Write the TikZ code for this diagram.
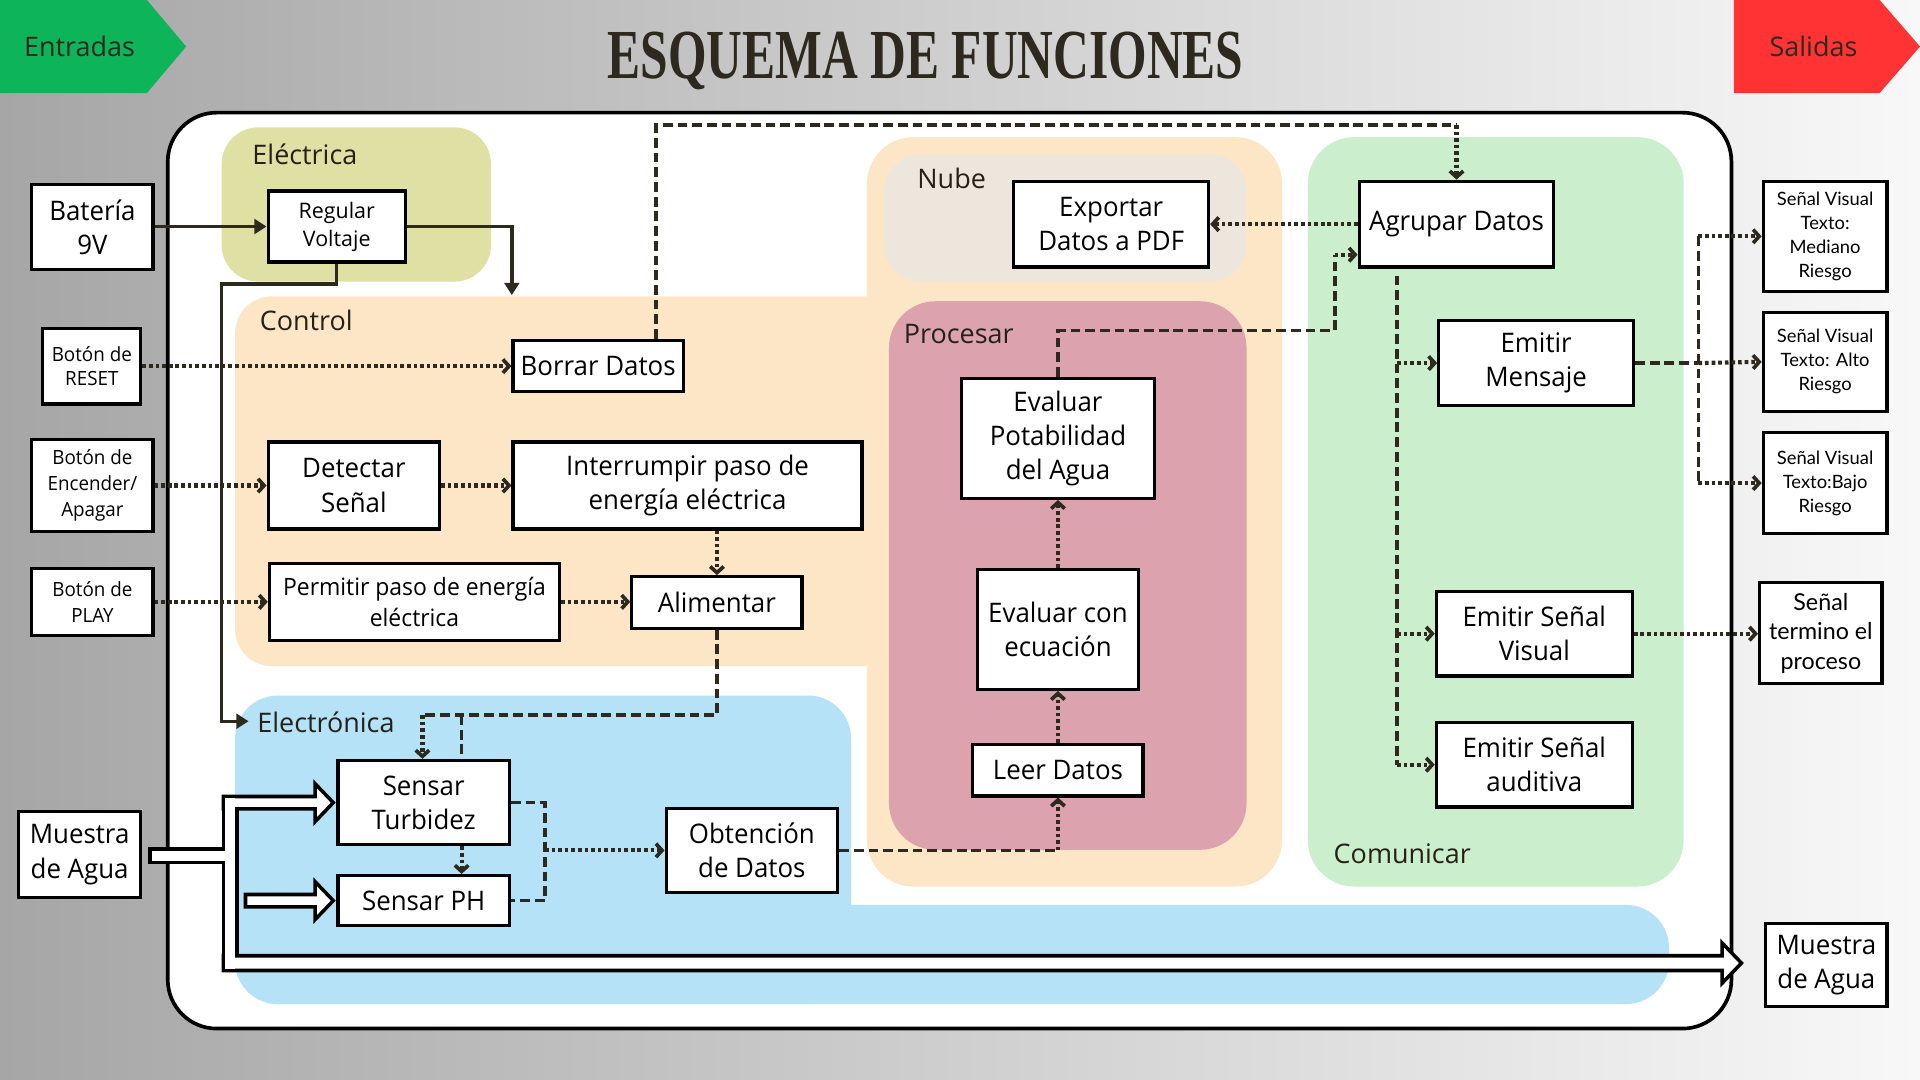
\documentclass[tikz,border=0pt]{standalone}
\usepackage{fontspec}
\usetikzlibrary{arrows.meta,calc}
\newfontfamily\cond[FakeStretch=0.96]{Open Sans}
\newfontfamily\wide{Open Sans}
\newfontfamily\geo{Lato}
\newfontfamily\ttl{Liberation Serif}
\definecolor{ink}{RGB}{45,41,30}
\definecolor{bgl}{RGB}{166,166,166}
\definecolor{bgr}{RGB}{248,248,248}
\definecolor{tagg}{RGB}{14,180,90}
\definecolor{tagr}{RGB}{255,51,51}
\definecolor{elecol}{RGB}{223,224,163}
\definecolor{peach}{RGB}{253,230,197}
\definecolor{nubecol}{RGB}{237,230,220}
\definecolor{proccol}{RGB}{220,163,174}
\definecolor{comcol}{RGB}{203,239,205}
\definecolor{eleccol}{RGB}{181,226,247}
\newcommand\pipeset[1]{%
 \path[#1] (124,695) rectangle (186,703);
 \path[#1] (184,652) rectangle (192,791);
 \path[#1] (184,652) -- (259,652) -- (259,644) -- (270,655.5) -- (259,667) -- (259,659) -- (184,659) -- cycle;
 \path[#1] (202,732) -- (259,732) -- (259,724) -- (270,735.5) -- (259,747) -- (259,739) -- (202,739) -- cycle;
 \path[#1] (184,782) -- (1408,782) -- (1408,774) -- (1420,786.5) -- (1408,799) -- (1408,791) -- (184,791) -- cycle;
}
\tikzset{
 box/.style={draw=black, line width=2.6pt, fill=white, align=center, inner sep=0pt,
   font=\cond\fontsize{22}{28}\selectfont},
 grp/.style={anchor=west, inner sep=0pt, font=\wide\fontsize{22}{26}\selectfont, text=ink!80!black},
 solidarrow/.style={draw=ink, line width=2.8pt, -{Triangle[length=10pt,width=12pt]}},
 dotarrow/.style={draw=ink, line width=3.4pt, dash pattern=on 3pt off 2.4pt,
   -{Straight Barb[length=5pt,width=11pt,line width=3pt]}},
 dashline/.style={draw=ink, line width=3pt, dash pattern=on 8pt off 4pt},
}
\begin{document}
\begin{tikzpicture}[x=1pt,y=-1pt]
\useasboundingbox (0,0) rectangle (1568,882);
\shade[left color=bgl, right color=bgr] (0,0) rectangle (1568,882);
% tags
\fill[tagg] (0,0) -- (120,0) -- (152,38) -- (120,76) -- (0,76) -- cycle;
\node[font=\wide\fontsize{22}{26}\selectfont, text=ink] (entr) at (65,38) {Entradas};
\fill[tagr] (1416,0) -- (1535,0) -- (1568,38) -- (1535,76) -- (1416,76) -- cycle;
\node[font=\wide\fontsize{22}{26}\selectfont, text=ink] (sal) at (1481,38) {Salidas};
\node[anchor=base, inner sep=0pt, text=ink] (title) at (756,64)
  {\resizebox{519pt}{38pt}{\ttl\bfseries ESQUEMA DE FUNCIONES}};
% main panel
\draw[line width=3pt, fill=white, rounded corners=40pt] (137,92) rectangle (1414,840);
% regions
\fill[elecol, rounded corners=30pt] (181,104) rectangle (401,230);
\fill[peach, rounded corners=30pt] (192,242) rectangle (740,544);
\fill[peach, rounded corners=38pt] (708,112) rectangle (1047,724);
\fill[nubecol, rounded corners=30pt] (722,126) rectangle (1018,230);
\fill[proccol, rounded corners=38pt] (726,246) rectangle (1018,694);
\fill[comcol, rounded corners=38pt] (1068,112) rectangle (1375,724);
\fill[eleccol, rounded corners=35pt] (192,568) rectangle (695,820);
\fill[eleccol, rounded corners=35pt] (192,739) rectangle (1363,820);
\node[grp] (lelec) at (206,126) {Eléctrica};
\node[grp] (lctrl) at (212,262) {Control};
\node[grp] (lnube) at (749,146) {Nube};
\node[grp] (lproc) at (738,273) {Procesar};
\node[grp] (lelectro) at (210,590) {Electrónica};
\node[grp] (lcom) at (1089,697) {Comunicar};
% pipes
\pipeset{draw=black, line width=6pt}
\pipeset{fill=white}
% boxes
\node[box, minimum width=99pt, minimum height=69pt] (bat) at (75.5,185.5) {Batería\\9V};
\node[box, minimum width=112pt, minimum height=58pt, font=\wide\fontsize{17.5}{23}\selectfont] (reg) at (275,185) {Regular\\Voltaje};
\node[box, minimum width=80pt, minimum height=62pt, font=\cond\fontsize{16}{20}\selectfont] (reset) at (75,299) {Botón de\\RESET};
\node[box, minimum width=99pt, minimum height=75pt, font=\cond\fontsize{16}{21}\selectfont] (onoff) at (75.5,396.5) {Botón de\\Encender/\\Apagar};
\node[box, minimum width=99pt, minimum height=55pt, font=\cond\fontsize{16}{21}\selectfont] (play) at (75.5,491.5) {Botón de\\PLAY};
\node[box, minimum width=100pt, minimum height=70pt] (muestraL) at (65,698) {Muestra\\de Agua};
\node[box, minimum width=139pt, minimum height=42pt] (borrar) at (488.5,299) {Borrar Datos};
\node[box, minimum width=140pt, minimum height=71pt] (detectar) at (289,396.5) {Detectar\\Señal};
\node[box, minimum width=285pt, minimum height=71pt] (interr) at (561.5,396.5) {Interrumpir paso de\\energía eléctrica};
\node[box, minimum width=237pt, minimum height=63pt, font=\cond\fontsize{19.5}{25}\selectfont] (permitir) at (338.5,491.5) {Permitir paso de energía\\eléctrica};
\node[box, minimum width=139pt, minimum height=42pt] (alim) at (585.5,492) {Alimentar};
\node[box, minimum width=140pt, minimum height=69pt] (turb) at (346,655.5) {Sensar\\Turbidez};
\node[box, minimum width=140pt, minimum height=41pt] (ph) at (346,735.5) {Sensar PH};
\node[box, minimum width=140pt, minimum height=69pt] (obt) at (614,694.5) {Obtención\\de Datos};
\node[box, minimum width=159pt, minimum height=70pt] (export) at (907.5,183) {Exportar\\Datos a PDF};
\node[box, minimum width=159pt, minimum height=70pt] (agrupar) at (1189.5,183) {Agrupar Datos};
\node[box, minimum width=158pt, minimum height=98pt] (evalpot) at (864,358) {Evaluar\\Potabilidad\\del Agua};
\node[box, minimum width=132pt, minimum height=98pt] (evalec) at (864,514) {Evaluar con\\ecuación};
\node[box, minimum width=139pt, minimum height=42pt] (leer) at (864,629) {Leer Datos};
\node[box, minimum width=159pt, minimum height=69pt] (mensaje) at (1254.5,296.5) {Emitir\\Mensaje};
\node[box, minimum width=160pt, minimum height=69pt] (visual) at (1253,517.5) {Emitir Señal\\Visual};
\node[box, minimum width=160pt, minimum height=69pt] (auditiva) at (1253,624.5) {Emitir Señal\\auditiva};
\node[box, minimum width=101pt, minimum height=90pt, font=\geo\fontsize{15}{19.6}\selectfont] (sv1) at (1490.5,193) {Señal Visual\\Texto:\\Mediano\\Riesgo};
\node[box, minimum width=101pt, minimum height=81pt, font=\geo\fontsize{15}{19.6}\selectfont] (sv2) at (1490.5,295.5) {Señal Visual\\Texto: Alto\\Riesgo};
\node[box, minimum width=101pt, minimum height=83pt, font=\geo\fontsize{15}{19.6}\selectfont] (sv3) at (1490.5,394.5) {Señal Visual\\Texto:Bajo\\Riesgo};
\node[box, minimum width=100pt, minimum height=82pt, font=\geo\fontsize{19}{24}\selectfont] (term) at (1487,517) {Señal\\termino el\\proceso};
\node[box, minimum width=99pt, minimum height=68pt] (muestraR) at (1491.5,788) {Muestra\\de Agua};
% coordinates
\coordinate (ctrlTop) at (418,241);
\coordinate (b1) at (181,232);
\coordinate (elecIn) at (203,589);
\coordinate (j1) at (345,584);
\coordinate (j2) at (377,584);
\coordinate (j3) at (445,694.5);
\coordinate (j5) at (1090,270);
\coordinate (j6) at (1090,208);
\coordinate (j7) at (536,102);
\coordinate (j9) at (1141,225);
\coordinate (j11) at (1387,296.5);
% connectors
\draw[solidarrow] (bat.east |- reg.west) -- (reg.west);
\draw[solidarrow] (reg.east) -| (ctrlTop);
\draw[solidarrow] (reg.south) |- (b1) |- (elecIn);
\draw[dotarrow] (reset.east) -- (reset.east -| borrar.west);
\draw[dotarrow] (onoff.east) -- (detectar.west);
\draw[dotarrow] (detectar.east) -- (interr.west);
\draw[dotarrow] (play.east) -- (permitir.west);
\draw[dotarrow] (permitir.east) -- (permitir.east -| alim.west);
\draw[dotarrow] (interr.south -| alim.north) -- (alim.north);
\draw[dashline] (alim.south) |- (j1);
\draw[dotarrow] (j1) -- (j1 |- turb.north);
\draw[dashline] (j2) -- (j2 |- turb.north);
\draw[dotarrow] (turb.south -| j2) -- (ph.north -| j2);
\draw[dashline] (turb.east) -| (j3) |- (ph.east);
\draw[dotarrow] (j3) -- (obt.west);
\draw[dashline] (obt.east) -- (obt.east -| leer.south);
\draw[dotarrow] (obt.east -| leer.south) -- (leer.south);
\draw[dotarrow] (leer.north) -- (evalec.south);
\draw[dotarrow] (evalec.north) -- (evalpot.south);
\draw[dashline] (evalpot.north) |- (j5) -- (j6);
\draw[dotarrow] (j6) -- (j6 -| agrupar.west);
\draw[dashline] (borrar.north -| j7) -- (j7) -- (j7 -| agrupar.north);
\draw[dotarrow] (j7 -| agrupar.north) -- (agrupar.north);
\draw[dotarrow] (agrupar.west) -- (export.east);
\draw[dashline] (j9) -- (j9 |- auditiva.west);
\draw[dotarrow] (j9 |- mensaje.west) -- (mensaje.west);
\draw[dotarrow] (j9 |- visual.west) -- (visual.west);
\draw[dotarrow] (j9 |- auditiva.west) -- (auditiva.west);
\draw[dashline] (mensaje.east) -- (j11);
\draw[dashline] (j11 |- sv1.west) -- (j11 |- sv3.west);
\draw[dotarrow] (j11 |- sv1.west) -- (sv1.west);
\draw[dotarrow] (j11) -- (sv2.west);
\draw[dotarrow] (j11 |- sv3.west) -- (sv3.west);
\draw[dotarrow] (visual.east) -- (visual.east -| term.west);
\end{tikzpicture}
\end{document}
